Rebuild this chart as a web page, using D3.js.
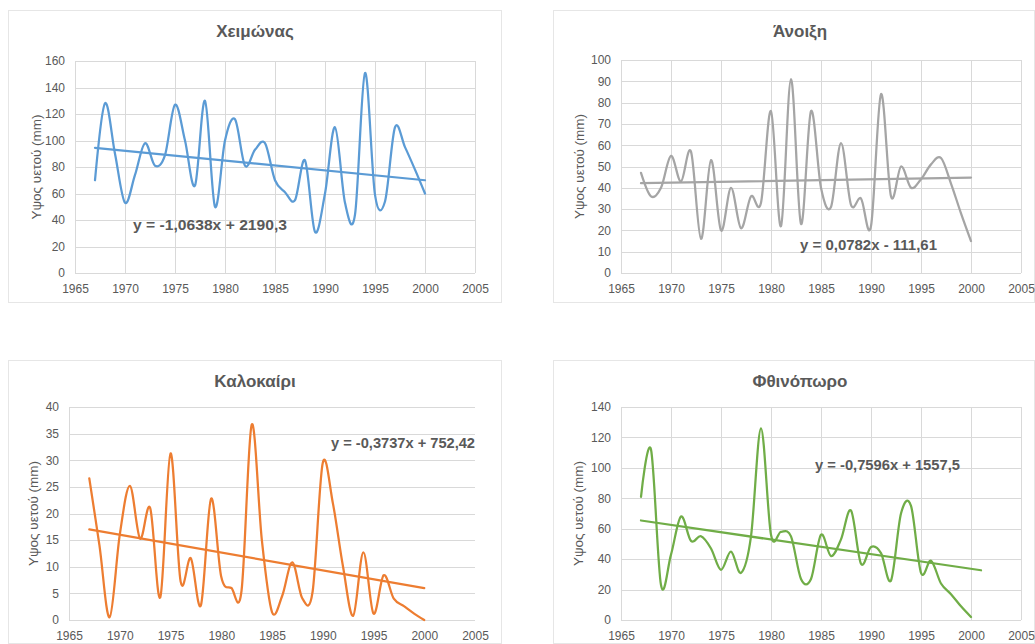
<!DOCTYPE html>
<html><head><meta charset="utf-8">
<script src="https://cdn.jsdelivr.net/npm/d3@7"></script>
<style>body{margin:0;background:#fff} svg{display:block}</style>
</head><body><svg id="c" width="1035" height="644"></svg>
<script>
// ---- data ----
const years = [1967,1968,1969,1970,1971,1972,1973,1974,1975,1976,1977,1978,1979,1980,1981,1982,1983,1984,1985,1986,1987,1988,1989,1990,1991,1992,1993,1994,1995,1996,1997,1998,1999,2000];
const winterValues = [70,128,90,53,74,98,81,89,127,100,66,130,50,100,116,81,93,98,70,61,55,85,31,60,110,53,44,151,59,54,110,95,78,60];
const springValues = [47,36,40,55,43,57,16,53,20,40,21,36,33,76,22,91,23,76,40,31,61,32,35,22,84,36,50,40,44,51,54,42,28,15];
const summerValues = [26.6,14,0.5,16,25.2,15.3,21,4.3,31.3,7.2,11.6,2.8,22.8,8.1,6,5.5,36.7,15,1.5,4.5,10.8,4,5.3,29.5,21.9,10,0.8,12.7,1.2,8.4,4,2.6,1.2,0];
const autumnValues = [81,112,23,43,68,52,55,47,33,45,31,55,126,56,58,55,27,27,56,42,53,72,37,48,44,26,70,75,31,39,24,17,9,2];

const winterTrendYears = [1967,2000], winterTrendValues = [94.5,70];
const springTrendYears = [1967,2000], springTrendValues = [42.2,44.8];
const summerTrendYears = [1967,2000], summerTrendValues = [17,6];
const autumnTrendYears = [1967,2001], autumnTrendValues = [65.4,32.7];

const xTickLabels = [1965,1970,1975,1980,1985,1990,1995,2000,2005];
const winterTicks = [0,20,40,60,80,100,120,140,160];
const springTicks = [0,10,20,30,40,50,60,70,80,90,100];
const summerTicks = [0,5,10,15,20,25,30,35,40];
const autumnTicks = [0,20,40,60,80,100,120,140];

const titles = ["Χειμώνας","Άνοιξη","Καλοκαίρι","Φθινόπωρο"];
const equations = ["y = -1,0638x + 2190,3","y = 0,0782x - 111,61","y = -0,3737x + 752,42","y = -0,7596x + 1557,5"];
const yTitle = "Υψος υετού (mm)";

// ---- layout ----
const svg = d3.select("#c");
const FONT = "'Liberation Sans', Arial, sans-serif";
const panels = [
  {values:winterValues, ty:winterTrendYears, tv:winterTrendValues, ticks:winterTicks, color:"#5b9bd5",
   box:[8,10,494,293], plot:{l:75,r:475,t:61,b:273}, titleXY:[255,37], eqXY:[133,230], eqW:154, yTitleX:36, vgrid:true},
  {values:springValues, ty:springTrendYears, tv:springTrendValues, ticks:springTicks, color:"#a5a5a5",
   box:[553,10,482,293], plot:{l:621,r:1021,t:60,b:273}, titleXY:[800,37], eqXY:[800,250], eqW:137, yTitleX:579, vgrid:true},
  {values:summerValues, ty:summerTrendYears, tv:summerTrendValues, ticks:summerTicks, color:"#ed7d31",
   box:[8,360,494,284], plot:{l:69,r:475,t:407,b:620}, titleXY:[255,387], eqXY:[331,448], eqW:144, yTitleX:33, vgrid:false},
  {values:autumnValues, ty:autumnTrendYears, tv:autumnTrendValues, ticks:autumnTicks, color:"#70ad47",
   box:[553,360,482,284], plot:{l:621,r:1021,t:407,b:620}, titleXY:[800,387], eqXY:[815,470], eqW:145, yTitleX:578, vgrid:true}
];

panels.forEach((p,i)=>{
  const g = svg.append("g");
  g.append("rect").attr("x",p.box[0]+0.5).attr("y",p.box[1]+0.5).attr("width",p.box[2]-1).attr("height",p.box[3]-1)
    .attr("fill","#fff").attr("stroke","#e6e6e6");
  const x = d3.scaleLinear().domain([1965,2005]).range([p.plot.l,p.plot.r]);
  const y = d3.scaleLinear().domain([0,d3.max(p.ticks)]).range([p.plot.b,p.plot.t]);

  g.selectAll(".hg").data(p.ticks).join("line")
    .attr("x1",p.plot.l).attr("x2",p.plot.r)
    .attr("y1",d=>Math.round(y(d))+0.5).attr("y2",d=>Math.round(y(d))+0.5)
    .attr("stroke","#d9d9d9").attr("stroke-width",1);
  const vt = p.vgrid ? xTickLabels : [1965];
  g.selectAll(".vg").data(vt).join("line")
    .attr("x1",d=>Math.round(x(d))+0.5).attr("x2",d=>Math.round(x(d))+0.5)
    .attr("y1",p.plot.t).attr("y2",p.plot.b)
    .attr("stroke","#d9d9d9").attr("stroke-width",1);

  const yAxis = d3.axisLeft(y).tickValues(p.ticks).tickSize(0).tickPadding(10);
  const ya = g.append("g").attr("transform",`translate(${p.plot.l},0)`).call(yAxis);
  ya.select(".domain").remove();
  ya.selectAll("text").attr("fill","#595959").style("font-family",FONT).style("font-size","12px");

  const xAxis = d3.axisBottom(x).tickValues(xTickLabels).tickFormat(d3.format("d")).tickSize(0).tickPadding(11);
  const xa = g.append("g").attr("transform",`translate(0,${p.plot.b})`).call(xAxis);
  xa.select(".domain").remove();
  xa.selectAll("text").attr("fill","#595959").style("font-family",FONT).style("font-size","12px");

  const line = d3.line().x((d,j)=>x(years[j])).y(d=>y(d)).curve(d3.curveCardinal.tension(0));
  g.append("path").datum(p.values).attr("d",line).attr("fill","none")
    .attr("stroke",p.color).attr("stroke-width",2.25).attr("stroke-linejoin","round").attr("stroke-linecap","round");

  const tline = d3.line().x((d,j)=>x(p.ty[j])).y(d=>y(d));
  g.append("path").datum(p.tv).attr("d",tline).attr("fill","none")
    .attr("stroke",p.color).attr("stroke-width",2.25).attr("stroke-linecap","round");

  g.append("text").attr("x",p.titleXY[0]).attr("y",p.titleXY[1]).attr("text-anchor","middle")
    .attr("fill","#595959").style("font-family",FONT).style("font-size","17px").style("font-weight","bold")
    .text(titles[i]);
  const cy = (p.plot.t+p.plot.b)/2;
  g.append("text").attr("transform",`translate(${p.yTitleX},${cy}) rotate(-90)`).attr("text-anchor","middle")
    .attr("dominant-baseline","central")
    .attr("fill","#595959").style("font-family",FONT).style("font-size","13.5px").text(yTitle);
  g.append("text").attr("x",p.eqXY[0]).attr("y",p.eqXY[1])
    .attr("fill","#595959").style("font-family",FONT).style("font-size","15px").style("font-weight","bold")
    .attr("textLength",p.eqW).attr("lengthAdjust","spacingAndGlyphs")
    .text(equations[i]);
});
</script></body></html>
